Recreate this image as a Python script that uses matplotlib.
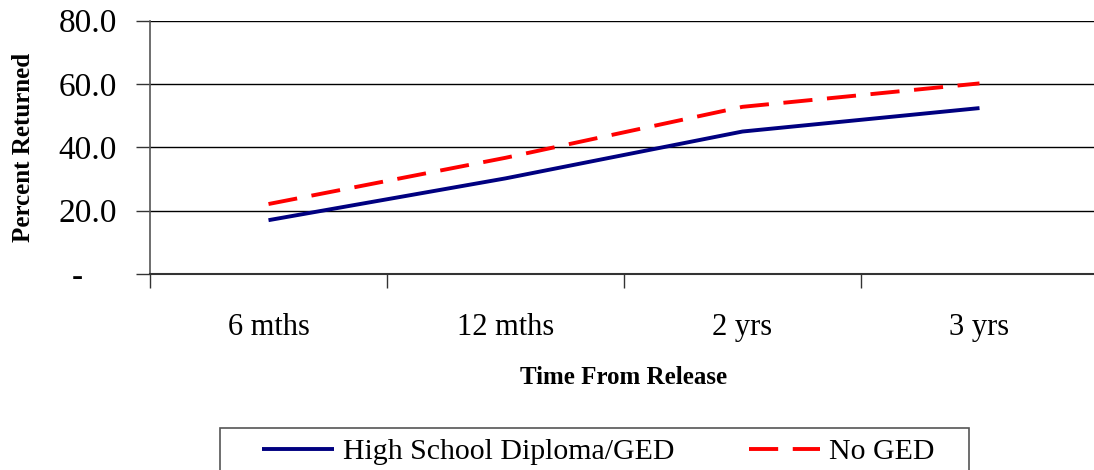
import matplotlib
matplotlib.use("Agg")
import matplotlib.pyplot as plt
from matplotlib.patches import Rectangle
import numpy as np

categories = ["6 mths", "12 mths", "2 yrs", "3 yrs"]
hs_diploma = [17.0, 30.2, 45.0, 52.4]
no_ged = [22.1, 36.7, 52.8, 60.2]
y_ticks = [0, 20, 40, 60, 80]
y_ticklabels = ["-    ", "20.0", "40.0", "60.0", "80.0"]

plt.rcParams['font.family'] = ['Liberation Serif', 'DejaVu Serif']

fig = plt.figure(figsize=(10.94, 4.70), dpi=100)
ax = fig.add_axes([150/1094, 1-274/470, 948/1094, (274-20.7)/470])

x = np.arange(len(categories))
ax.plot(x, hs_diploma, color="#000080", lw=2.8, label="High School Diploma/GED", solid_capstyle='butt')
ax.plot(x, no_ged, color="#FF0000", lw=2.8, ls=(0, (7.5, 3.75)), label="No GED", dash_capstyle='butt')

ax.set_xlim(-0.5, len(categories) - 0.5)
ax.set_ylim(0, 80)
ax.set_yticks(y_ticks)
ax.set_yticklabels(y_ticklabels, fontsize=24)
ax.set_xticks(x)
ax.set_xticklabels(categories, fontsize=22)
ax.tick_params(axis='x', which='major', length=0, pad=28)
ax.set_xticks(np.arange(-0.5, len(categories), 1.0), minor=True)
ax.tick_params(axis='x', which='minor', length=10, width=1, color="#333333", direction='out')
ax.tick_params(axis='y', length=10, width=1, color="#333333", direction='out', pad=14)

ax.grid(axis='y', color='black', lw=1)
for s in ['top', 'right']:
    ax.spines[s].set_visible(False)
ax.spines['left'].set_color("#555555")
ax.spines['bottom'].set_color("#333333")
ax.spines['left'].set_linewidth(1.2)
ax.spines['bottom'].set_linewidth(1.5)

ax.set_ylabel("Percent Returned", fontsize=18, fontweight='bold')
ax.yaxis.set_label_coords(-0.121, 0.5)
ax.set_xlabel("Time From Release", fontsize=18, fontweight='bold', labelpad=17)

fig.patches.append(Rectangle((220/1094, -0.05), 749/1094, 0.05 + (1 - 428/470),
                             transform=fig.transFigure, fill=False,
                             edgecolor='#555555', lw=1.2))
leg = fig.legend(loc='center left', bbox_to_anchor=(262/1094, 1-452/470),
                 ncol=2, fontsize=21.5, frameon=False, borderpad=0, borderaxespad=0,
                 handlelength=2.4, handletextpad=0.3, columnspacing=2.5)

fig.savefig("out.png", dpi=100)
